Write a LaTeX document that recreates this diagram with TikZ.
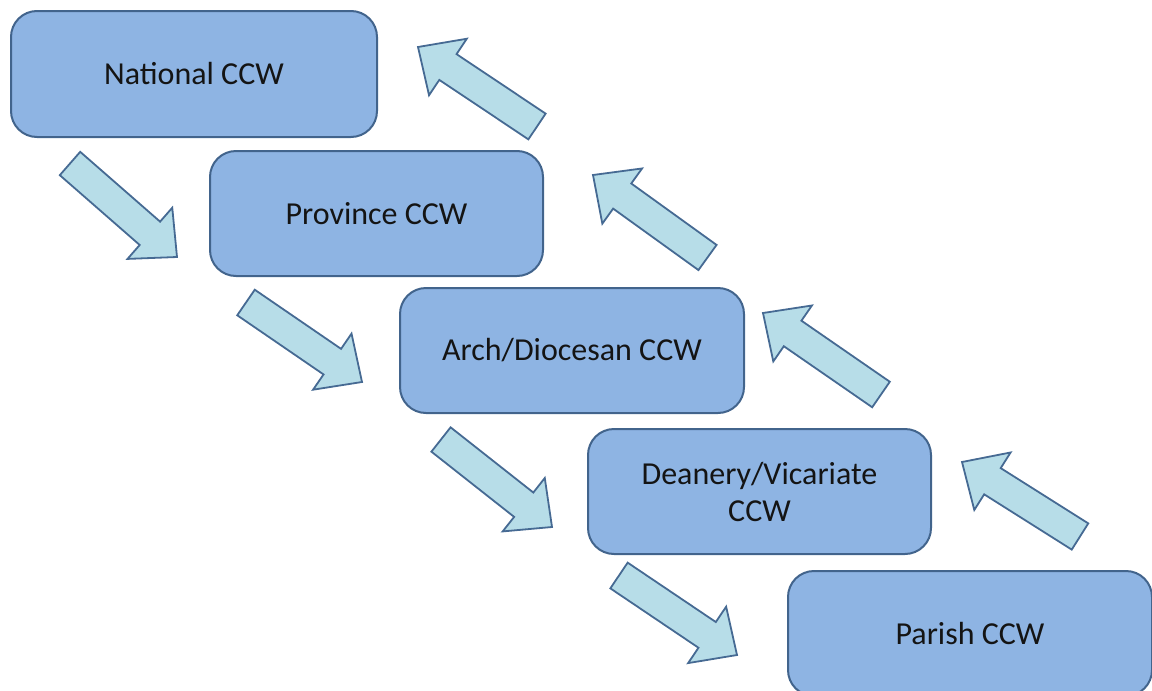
\documentclass[tikz,border=0pt]{standalone}
\usepackage{fontspec}
\setmainfont{Carlito}
\usetikzlibrary{calc}
\definecolor{boxfill}{HTML}{8EB4E3}
\definecolor{boxline}{HTML}{42648C}
\definecolor{arrfill}{HTML}{B7DDE8}
\definecolor{arrline}{HTML}{466A93}
\definecolor{txt}{HTML}{141414}
\newcommand{\blockarrow}[3]{%
  \coordinate (#1b) at ($(#3)!36pt!(#2)$);
  \draw[blockarr] ($(#2)!15.5pt!90:(#3)$) -- ($(#1b)!15.5pt!90:(#3)$) -- ($(#1b)!34pt!90:(#3)$) -- (#3) -- ($(#1b)!34pt!-90:(#3)$) -- ($(#1b)!15.5pt!-90:(#3)$) -- ($(#2)!15.5pt!-90:(#3)$) -- cycle;}
\begin{document}
\begin{tikzpicture}[x=1pt,y=-1pt,
  levelbox/.style={draw=boxline, line width=2pt, fill=boxfill, rounded corners=26pt,
    text=txt, font=\fontsize{32}{37}\selectfont, align=center, inner sep=0pt},
  blockarr/.style={draw=arrline, line width=1.8pt, fill=arrfill, line join=miter}]
\useasboundingbox (0,0) rectangle (1152,691);
\clip (0,0) rectangle (1152,691);

\node[levelbox, minimum width=366pt, minimum height=126pt] (national) at (194,74) {National CCW};
\node[levelbox, minimum width=333pt, minimum height=125pt] (province) at (376.5,213.5) {Province CCW};
\node[levelbox, minimum width=344pt, minimum height=125pt] (diocesan) at (572,350.5) {Arch/Diocesan CCW};
\node[levelbox, minimum width=343pt, minimum height=125pt] (deanery) at (759.5,491.5) {Deanery/Vicariate\\CCW};
\node[levelbox, minimum width=364pt, minimum height=125pt] (parish) at (970,633.5) {Parish CCW};

% down arrows
\coordinate (d1t) at (70,163.5);   \coordinate (d1h) at (177,257);
\coordinate (d2t) at (246,302.5);  \coordinate (d2h) at (362,382);
\coordinate (d3t) at (441,439.5);  \coordinate (d3h) at (552,527);
\coordinate (d4t) at (619,575.5);  \coordinate (d4h) at (737,655);
% up arrows
\coordinate (u1t) at (537,126.5);  \coordinate (u1h) at (418,47);
\coordinate (u2t) at (707.5,257.5);\coordinate (u2h) at (593,175);
\coordinate (u3t) at (881,394.5);  \coordinate (u3h) at (763,313);
\coordinate (u4t) at (1080,536.5); \coordinate (u4h) at (962,462);

\blockarrow{d1}{d1t}{d1h}
\blockarrow{d2}{d2t}{d2h}
\blockarrow{d3}{d3t}{d3h}
\blockarrow{d4}{d4t}{d4h}
\blockarrow{u1}{u1t}{u1h}
\blockarrow{u2}{u2t}{u2h}
\blockarrow{u3}{u3t}{u3h}
\blockarrow{u4}{u4t}{u4h}
\end{tikzpicture}
\end{document}
